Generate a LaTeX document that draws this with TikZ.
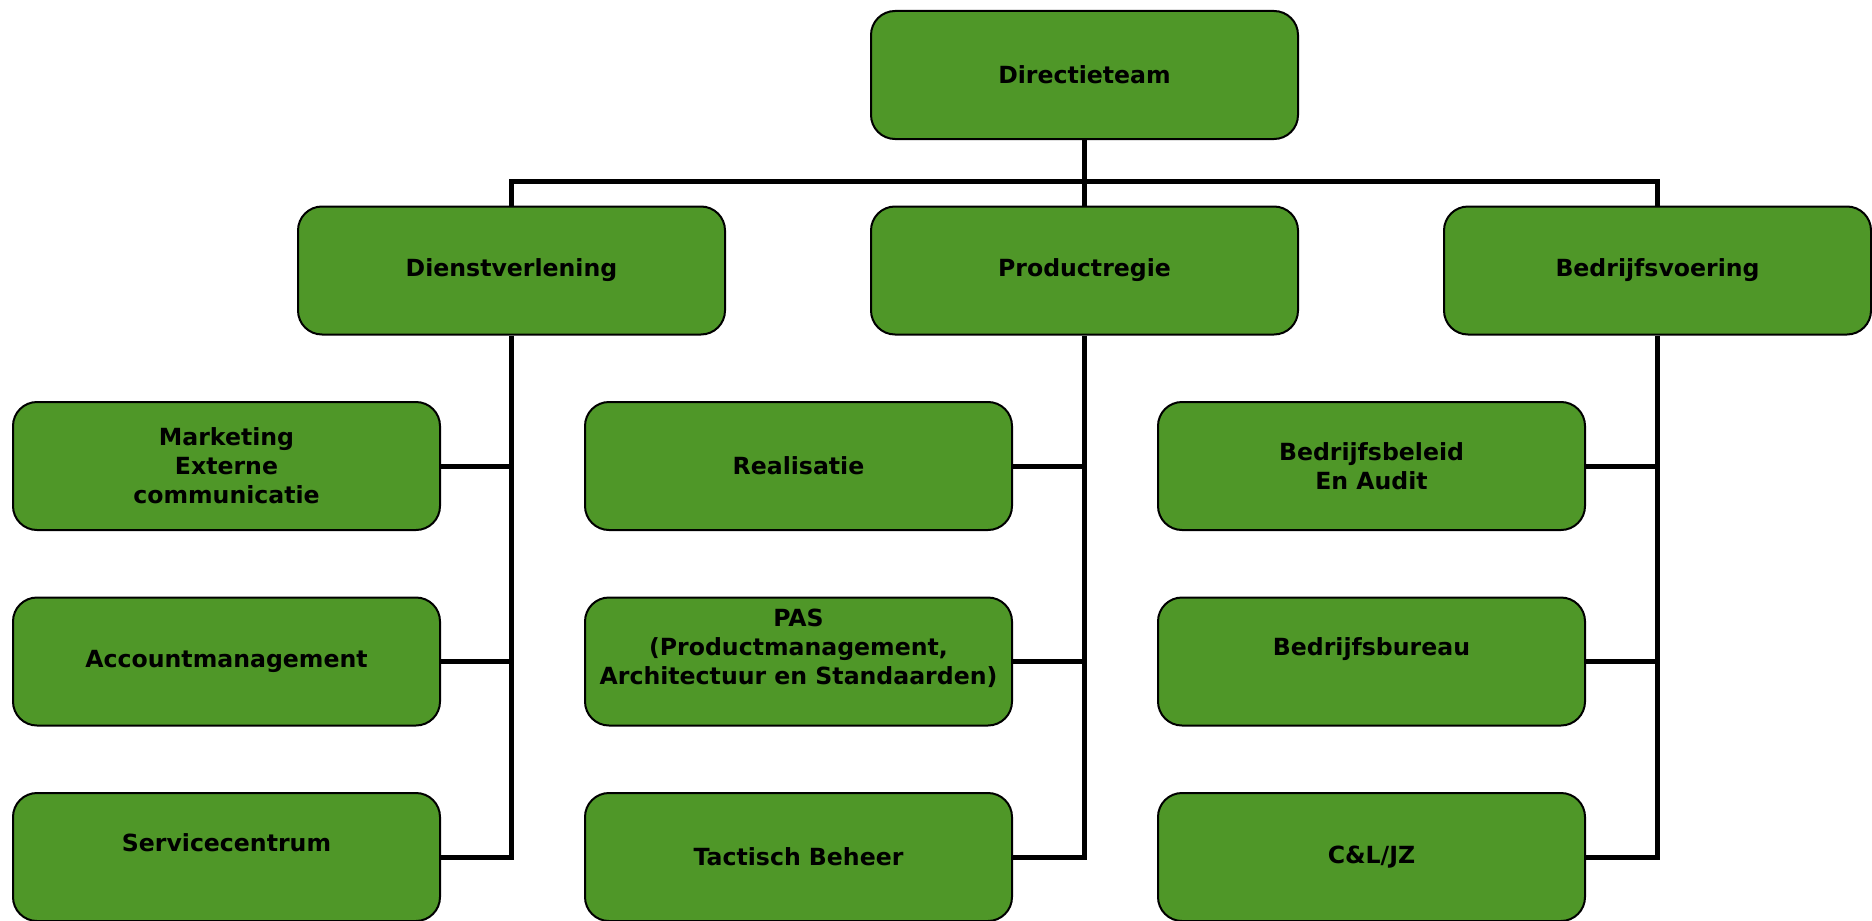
\documentclass[tikz,border=0pt]{standalone}
\usepackage{fontspec}
\setmainfont{DejaVu Sans}
\definecolor{orggreen}{RGB}{79,151,40}
\begin{document}
\begin{tikzpicture}[x=0.5pt,y=-0.5pt,
  unit/.style={draw, line width=1pt, fill=orggreen, rounded corners=12pt, minimum width=213.5pt, minimum height=64pt, inner sep=0pt, align=center, font=\fontsize{11.8}{14.5}\selectfont\bfseries},
  link/.style={line width=2.5pt}]
\useasboundingbox (0,0) rectangle (1872,920);
\node[unit] (dir) at (1084.5,75){Directieteam};
\node[unit] (dv) at (511.5,270.5){Dienstverlening};
\node[unit] (pr) at (1084.5,270.5){Productregie};
\node[unit] (bv) at (1657.5,270.5){Bedrijfsvoering};
\coordinate (bus) at (1084.5,181.5);
\draw[link] (dir) -- (pr);
\draw[link] (dv.north) |- (bus) -| (bv.north);
\node[unit] (dv1) at (226.5,466){Marketing\\Externe\\communicatie};
\node[unit] (dv2) at (226.5,661.5){Accountmanagement};
\node[unit] (dv3) at (226.5,857){Servicecentrum\\~};
\draw[link] (dv.south) |- (dv3.east);
\draw[link] (dv1.east) -- (dv1.east -| dv.south);
\draw[link] (dv2.east) -- (dv2.east -| dv.south);
\node[unit] (pr1) at (798.5,466){Realisatie};
\node[unit] (pr2) at (798.5,661.5){PAS\\(Productmanagement,\\Architectuur en Standaarden)\\~};
\node[unit] (pr3) at (798.5,857){Tactisch Beheer};
\draw[link] (pr.south) |- (pr3.east);
\draw[link] (pr1.east) -- (pr1.east -| pr.south);
\draw[link] (pr2.east) -- (pr2.east -| pr.south);
\node[unit] (bv1) at (1371.5,466){Bedrijfsbeleid\\En Audit};
\node[unit] (bv2) at (1371.5,661.5){Bedrijfsbureau\\~};
\node[unit] (bv3) at (1371.5,857){C\&L/JZ};
\draw[link] (bv.south) |- (bv3.east);
\draw[link] (bv1.east) -- (bv1.east -| bv.south);
\draw[link] (bv2.east) -- (bv2.east -| bv.south);
\end{tikzpicture}
\end{document}
